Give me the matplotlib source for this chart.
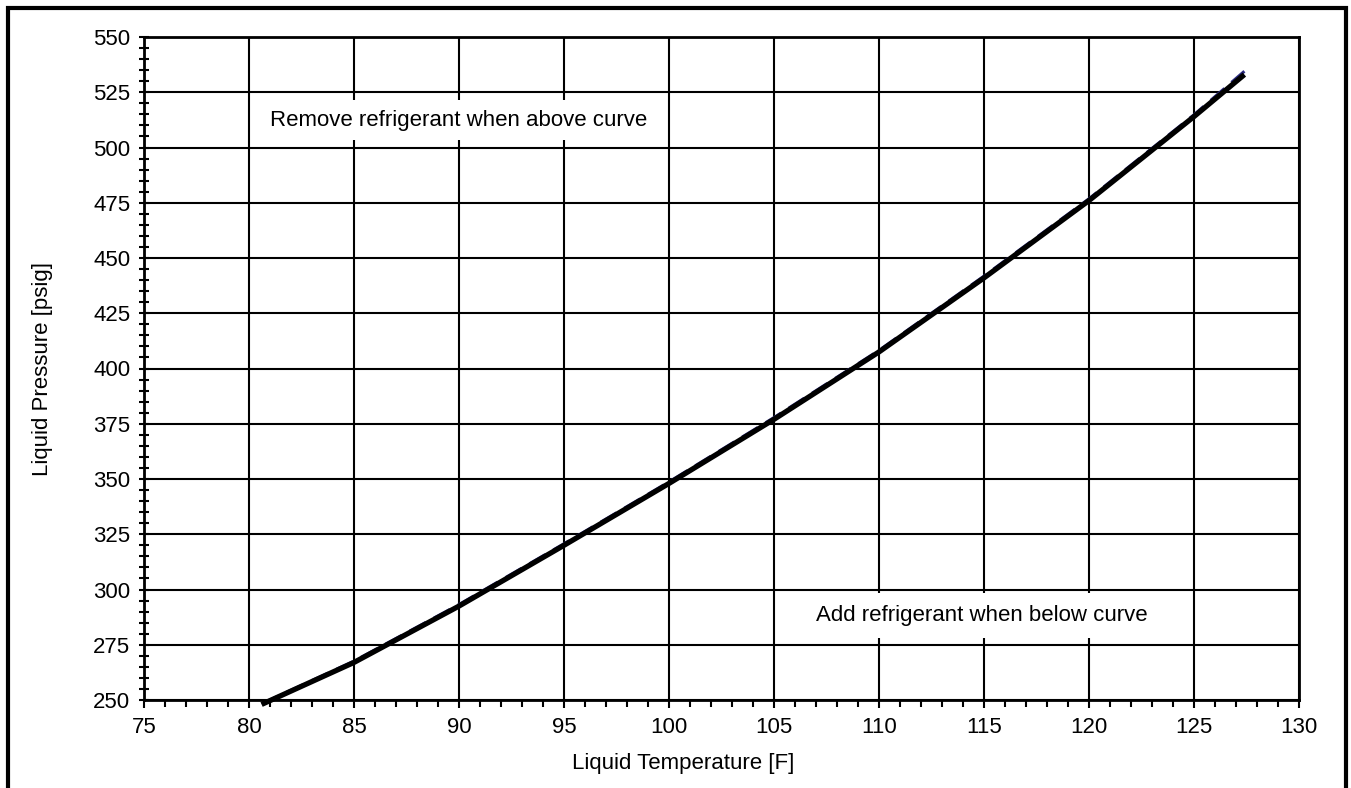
import numpy as np
import matplotlib
matplotlib.use('Agg')
import matplotlib.pyplot as plt
from matplotlib.patches import Rectangle
from matplotlib.ticker import MultipleLocator

plt.rcParams['font.family'] = ['Liberation Sans', 'DejaVu Sans']

# liquid temperature [F] and pressure [psig]
temp = [80.6, 85, 90, 95, 100, 105, 110, 115, 120, 125, 127.4]
press_fit = [248, 267, 292.5, 320, 348, 377, 407.5, 441, 476, 514, 533]
# second (dashed) series, sits just above the fitted curve
press_data = [248.3, 267.6, 293.2, 320.7, 348.7, 377.8, 408.2, 441.8, 476.8, 514.8, 534.5]

xticks = np.arange(75, 131, 5)
yticks = np.arange(250, 551, 25)

fs = 16

fig = plt.figure(figsize=(13.51, 7.88), dpi=100)
ax = fig.add_axes([144 / 1351, 1 - 700 / 788, 1155 / 1351, 663 / 788])

ax.set_xlim(75, 130)
ax.set_ylim(250, 550)
ax.set_xticks(xticks)
ax.set_yticks(yticks)
ax.xaxis.set_minor_locator(MultipleLocator(1))
ax.yaxis.set_minor_locator(MultipleLocator(5))

ax.set_axisbelow(True)
ax.grid(True, which='major', color='black', lw=1.5)

# white boxes behind the two notes (they hide the grid)
ax.add_patch(Rectangle((80.08, 503.5), 19.84, 18, facecolor='white', edgecolor='none', zorder=1))
ax.add_patch(Rectangle((105.08, 278.2), 19.84, 20.3, facecolor='white', edgecolor='none', zorder=1))
ax.text(90, 512.3, 'Remove refrigerant when above curve', ha='center', va='center',
        fontsize=fs, zorder=3)
ax.text(114.9, 288.3, 'Add refrigerant when below curve', ha='center', va='center',
        fontsize=fs, zorder=3)

ax.plot(temp, press_data, color='#2b2b80', lw=2.2, ls=(0, (6, 3)), zorder=2, clip_on=False)
ax.plot(temp, press_fit, color='black', lw=3.8, zorder=2.5, clip_on=False,
        solid_capstyle='butt')

for s in ax.spines.values():
    s.set_linewidth(2)
ax.tick_params(axis='y', which='major', direction='inout', length=7.5, width=1.5,
               labelsize=fs, pad=6)
ax.tick_params(axis='y', which='minor', direction='inout', length=6.5, width=1.5)
ax.tick_params(axis='x', which='major', direction='out', length=6, width=1.5,
               labelsize=fs, pad=6)
ax.tick_params(axis='x', which='minor', direction='out', length=5, width=1.5)

ax.set_xlabel('Liquid Temperature [F]', fontsize=fs)
ax.set_ylabel('Liquid Pressure [psig]', fontsize=fs)
ax.xaxis.set_label_coords(0.467, -0.08)
ax.yaxis.set_label_coords(-0.079, 0.5)

# black frame round the figure, open at the bottom edge
fig.add_artist(Rectangle((7.5 / 1351, -0.05), 1338.5 / 1351, 1.05 - 8 / 788,
                         transform=fig.transFigure, fill=False, lw=3, edgecolor='black'))

fig.savefig('out.png', dpi=100)
